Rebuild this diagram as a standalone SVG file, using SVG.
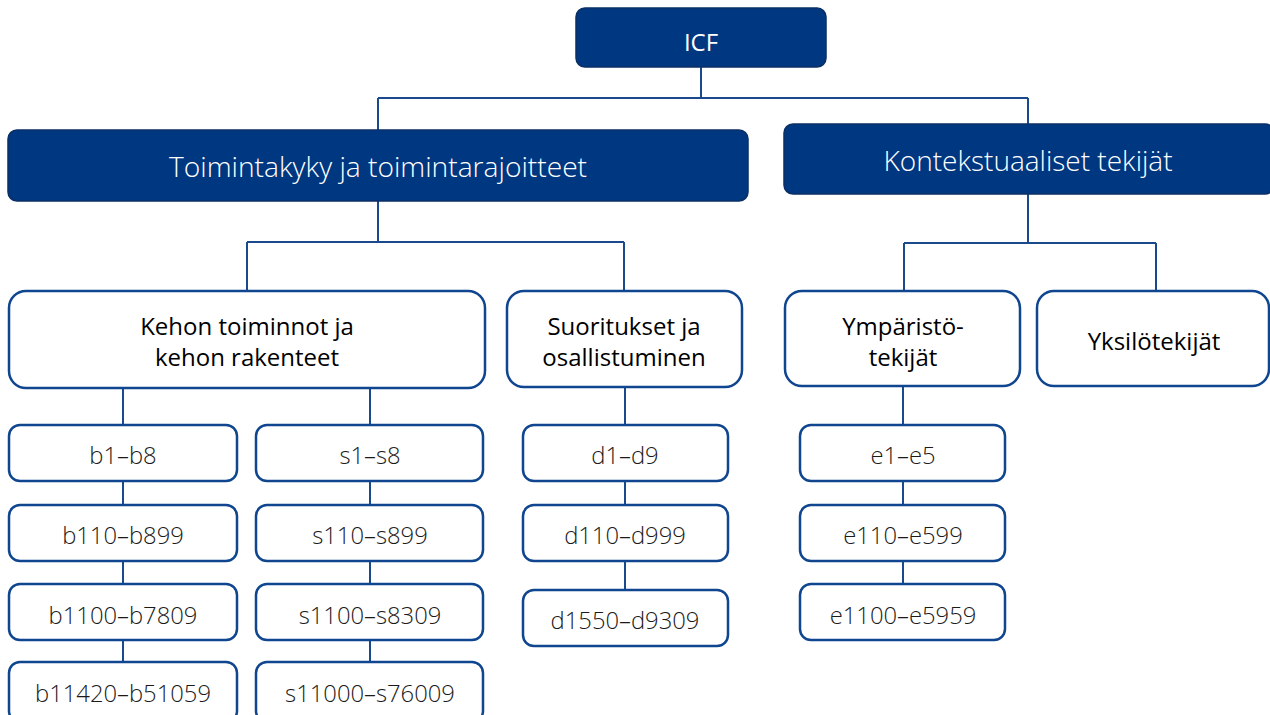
<svg xmlns="http://www.w3.org/2000/svg" width="1270" height="715" viewBox="0 0 1270 715">
<style>
.dark{fill:#003781;stroke:#0a2f66;stroke-width:1.5}
.box{fill:#ffffff;stroke:#0f468f;stroke-width:2.5}
.wt{fill:#ffffff;font-family:"Open Sans","Noto Sans",sans-serif;text-anchor:middle;dominant-baseline:central}
.bt{fill:#000000;font-family:"Open Sans","Noto Sans",sans-serif;text-anchor:middle;dominant-baseline:central;font-size:24px}
.code{fill:#1a1a1a;font-family:"Open Sans","Noto Sans",sans-serif;text-anchor:middle;dominant-baseline:central;font-size:23.8px;font-weight:300}
.con{fill:none;stroke:#1a4a8c;stroke-width:2}
</style>
<rect width="1270" height="715" fill="#ffffff"/>
<g id="connectors">
<path class="con" d="M701 67V98M378 98H1028M378 98V130M1028 98V124"/>
<path class="con" d="M378 201V242M247 242H624M247 242V291M624 242V291"/>
<path class="con" d="M1028 194V243M904 243H1156M904 243V291M1156 243V291"/>
<path class="con" d="M123 388V425M123 481V505M123 561V584M123 640V662"/>
<path class="con" d="M370 388V425M370 481V505M370 561V584M370 640V662"/>
<path class="con" d="M625 387V425M625 481V505M625 561V590"/>
<path class="con" d="M903 386V425M903 481V505M903 561V584"/>
</g>
<g id="icf"><rect class="dark" x="576" y="8" width="250" height="59" rx="9"/><text class="wt" x="701" y="41" font-size="24">ICF</text></g>
<g id="toimintakyky"><rect class="dark" x="8" y="130" width="740" height="71" rx="9"/><text class="wt" x="378" y="166" font-size="28.2" font-weight="300">Toimintakyky ja toimintarajoitteet</text></g>
<g id="kontekstuaaliset"><rect class="dark" x="784" y="124" width="490" height="70" rx="9"/><text class="wt" x="1028" y="160" font-size="28" font-weight="300">Kontekstuaaliset tekijät</text></g>
<g id="kehon"><rect class="box" x="9" y="291" width="476" height="97" rx="17"/><text class="bt" x="247" y="325">Kehon toiminnot ja</text><text class="bt" x="247" y="356">kehon rakenteet</text></g>
<g id="suoritukset"><rect class="box" x="507" y="291" width="235" height="96" rx="17"/><text class="bt" x="624" y="325">Suoritukset ja</text><text class="bt" x="624" y="356">osallistuminen</text></g>
<g id="ymparisto"><rect class="box" x="785" y="291" width="235" height="95" rx="17"/><text class="bt" x="903" y="325">Ympäristö-</text><text class="bt" x="903" y="356">tekijät</text></g>
<g id="yksilo"><rect class="box" x="1037" y="291" width="232" height="95" rx="17"/><text class="bt" x="1154" y="340">Yksilötekijät</text></g>
<g id="b1"><rect class="box" x="9" y="425" width="228" height="56" rx="11"/><text class="code" x="123" y="455">b1–b8</text></g>
<g id="b2"><rect class="box" x="9" y="505" width="228" height="56" rx="11"/><text class="code" x="123" y="535">b110–b899</text></g>
<g id="b3"><rect class="box" x="9" y="584" width="228" height="56" rx="11"/><text class="code" x="123" y="615">b1100–b7809</text></g>
<g id="b4"><rect class="box" x="9" y="662" width="228" height="60" rx="11"/><text class="code" x="123" y="693">b11420–b51059</text></g>
<g id="s1"><rect class="box" x="256" y="425" width="227" height="56" rx="11"/><text class="code" x="370" y="455">s1–s8</text></g>
<g id="s2"><rect class="box" x="256" y="505" width="227" height="56" rx="11"/><text class="code" x="370" y="535">s110–s899</text></g>
<g id="s3"><rect class="box" x="256" y="584" width="227" height="56" rx="11"/><text class="code" x="370" y="615">s1100–s8309</text></g>
<g id="s4"><rect class="box" x="256" y="662" width="227" height="60" rx="11"/><text class="code" x="370" y="693">s11000–s76009</text></g>
<g id="d1"><rect class="box" x="523" y="425" width="205" height="56" rx="11"/><text class="code" x="625" y="455">d1–d9</text></g>
<g id="d2"><rect class="box" x="523" y="505" width="205" height="56" rx="11"/><text class="code" x="625" y="535">d110–d999</text></g>
<g id="d3"><rect class="box" x="523" y="590" width="205" height="56" rx="11"/><text class="code" x="625" y="620">d1550–d9309</text></g>
<g id="e1"><rect class="box" x="800" y="425" width="205" height="56" rx="11"/><text class="code" x="903" y="455">e1–e5</text></g>
<g id="e2"><rect class="box" x="800" y="505" width="205" height="56" rx="11"/><text class="code" x="903" y="535">e110–e599</text></g>
<g id="e3"><rect class="box" x="800" y="584" width="205" height="56" rx="11"/><text class="code" x="903" y="615">e1100–e5959</text></g>
</svg>
